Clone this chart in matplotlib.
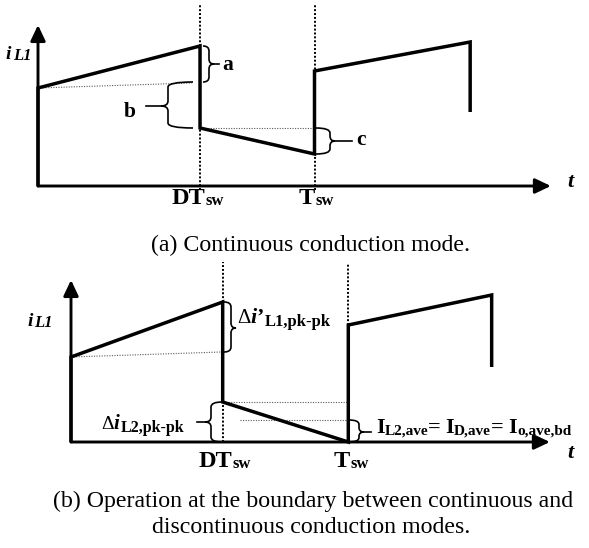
import matplotlib
matplotlib.use("Agg")
import matplotlib.pyplot as plt
from matplotlib.path import Path
from matplotlib.patches import PathPatch

# ---------------- data (t in units of T_sw, i in arbitrary units) ----------------
# Panel (a): continuous conduction mode
t_a = [0.0, 0.0, 0.586, 0.586, 1.0, 1.0, 1.563, 1.563]
i_a = [0.0, 9.8, 14.0, 5.8, 3.2, 11.5, 14.4, 7.4]
D_a = 0.586
# Panel (b): boundary between CCM and DCM
t_b = [0.0, 0.0, 0.547, 0.547, 1.0, 1.0, 1.517, 1.517]
i_b = [0.0, 8.5, 14.0, 4.0, 0.0, 11.7, 14.7, 7.5]
D_b = 0.547
i_ave_b = 2.2

tick_labels = ["DT", "T"]
captions = ["(a) Continuous conduction mode.",
            "(b) Operation at the boundary between continuous and\ndiscontinuous conduction modes."]

W, H = 589, 548
SERIF = "Liberation Serif"
plt.rcParams["font.family"] = SERIF

fig = plt.figure(figsize=(W / 100, H / 100), dpi=100)


def panel(top_px, bot_px, x0, y0, tpx, ipx):
    ax = fig.add_axes([0, 1 - bot_px / H, 1, (bot_px - top_px) / H])
    ax.set_xlim(-x0 / tpx, (W - x0) / tpx)
    ax.set_ylim((y0 - bot_px) / ipx, (y0 - top_px) / ipx)
    ax.axis("off")
    return ax


ax_a = panel(0, 225, 38, 186, 276.5, 10)
ax_b = panel(258, 478, 71, 442, 277.3, 10)

ov = fig.add_axes([0, 0, 1, 1])
ov.set_xlim(0, W)
ov.set_ylim(H, 0)
ov.axis("off")
renderer = fig.canvas.get_renderer()

AX_LW = 2.1
WAVE_LW = 2.5
arrow = dict(arrowstyle="-|>,head_length=0.95,head_width=0.45", mutation_scale=10,
             lw=AX_LW, color="k", shrinkA=0, shrinkB=0)
vdot = dict(color="k", lw=1.4, linestyle=(0, (1, 1)))
hdot = dict(color="0.35", lw=0.8, linestyle=(0, (1, 1.3)))


def axes_arrows(ax, ytip, xtip):
    ax.annotate("", xy=(0, ytip), xytext=(0, 0), arrowprops=arrow)
    ax.annotate("", xy=(xtip, 0), xytext=(0, 0), arrowprops=arrow)


# ---- panel (a) ----
axes_arrows(ax_a, 16.1, 1.855)
ax_a.plot([D_a, D_a], [-0.4, 18.1], **vdot)
ax_a.plot([1, 1], [-0.4, 18.1], **vdot)
ax_a.plot([0, D_a - 0.03], [i_a[1], 10.3], **hdot)
ax_a.plot([D_a, 1], [i_a[3], i_a[3]], **hdot)
ax_a.plot(t_a, i_a, color="k", lw=WAVE_LW, solid_joinstyle="miter", solid_capstyle="butt")

# ---- panel (b) ----
axes_arrows(ax_b, 16.2, 1.727)
ax_b.plot([D_b, D_b], [0, 18.0], **vdot)
ax_b.plot([1, 1], [i_b[5], 17.9], **vdot)
ax_b.plot([0, D_b - 0.005], [i_b[1], 9.0], **hdot)
ax_b.plot([D_b, 1], [i_b[3], i_b[3]], **hdot)
ax_b.plot([0.61, 1], [i_ave_b, i_ave_b], **hdot)
ax_b.plot(t_b, i_b, color="k", lw=WAVE_LW, solid_joinstyle="miter", solid_capstyle="butt")


# ---------------- braces & labels (overlay, pixel coords) ----------------
def brace(x_end, x_spine, x_tip, y1, y2, ym, tail=None, lw=1.2):
    r = min(5.0, (y2 - y1) / 5)
    verts = [(x_end, y1), (x_spine, y1), (x_spine, y1 + r),
             (x_spine, ym - r),
             (x_spine, ym), (x_tip, ym),
             (x_spine, ym), (x_spine, ym + r),
             (x_spine, y2 - r),
             (x_spine, y2), (x_end, y2)]
    codes = [Path.MOVETO, Path.CURVE3, Path.CURVE3, Path.LINETO,
             Path.CURVE3, Path.CURVE3, Path.CURVE3, Path.CURVE3,
             Path.LINETO, Path.CURVE3, Path.CURVE3]
    ov.add_patch(PathPatch(Path(verts, codes), fill=False, lw=lw, color="k"))
    if tail is not None:
        ov.plot([x_tip, tail], [ym, ym], color="k", lw=lw)


def txt(x, y, s, size, weight="bold", style="normal", ha="left"):
    return ov.text(x, y, s, fontsize=size, fontweight=weight, fontstyle=style,
                   ha=ha, va="baseline", color="k")


def compose(x, y, pieces):
    """pieces: (text, size, weight, style, dy, gap_before)"""
    for s, size, weight, style, dy, gap in pieces:
        x += gap
        t = txt(x, y + dy, s, size, weight, style)
        bb = t.get_window_extent(renderer)
        x = bb.x1


# panel (a) braces
brace(203, 209, 214, 46, 82, 64, tail=219)
txt(222, 70, "a", 15.5)
brace(193, 168, 161, 82, 128, 106, tail=146)
txt(124, 117, "b", 15.5)
brace(316, 330, 335, 128, 154, 141, tail=352)
txt(356, 145, "c", 15.5)

# axis labels (a)
compose(6, 59, [("i", 14, "bold", "italic", 0, 0), ("L1", 12, "bold", "italic", 1, 2)])
txt(567, 187, "t", 16, style="italic")
compose(172, 204, [(tick_labels[0], 17.5, "bold", "normal", 0, 0), ("sw", 12, "bold", "normal", 1, 0)])
compose(299, 204, [(tick_labels[1], 17.5, "bold", "normal", 0, 0), ("sw", 12, "bold", "normal", 1, 0)])

# panel (b) braces
brace(224, 231, 236, 302, 352, 328)
compose(237, 323, [("\u0394", 15, "normal", "normal", 0, 0),
                   ("i\u2019", 16, "bold", "italic", 0, 0),
                   ("L1,pk-pk", 12, "bold", "normal", 3, 1)])
brace(222, 211, 205, 402, 442, 422, tail=197)
compose(101, 429, [("\u0394", 14, "normal", "normal", 0, 0),
                   ("i", 15, "bold", "italic", 0, 0),
                   ("L2,pk-pk", 11.5, "bold", "normal", 3, 1)])
brace(349, 359, 364, 420, 442, 432, tail=371)
compose(376, 433, [("I", 16, "bold", "normal", 0, 0),
                   ("L2,ave", 11, "bold", "normal", 2, 0),
                   ("=", 16, "bold", "normal", 0, 0),
                   ("I", 16, "bold", "normal", 0, 4),
                   ("D,ave", 11, "bold", "normal", 2, 0),
                   ("=", 16, "bold", "normal", 0, 0),
                   ("I", 16, "bold", "normal", 0, 5),
                   ("o,ave,bd", 11, "bold", "normal", 2, 0)])

# axis labels (b)
compose(27, 326, [("i", 14, "bold", "italic", 0, 0), ("L1", 12, "bold", "italic", 1, 2)])
txt(567, 458, "t", 16, style="italic")
compose(199, 467, [(tick_labels[0], 17.5, "bold", "normal", 0, 0), ("sw", 12, "bold", "normal", 1, 0)])
compose(334, 467, [(tick_labels[1], 17.5, "bold", "normal", 0, 0), ("sw", 12, "bold", "normal", 1, 0)])

# captions
txt(311, 251, captions[0], 17.2, weight="normal", ha="center")
cap_b = captions[1].split("\n")
txt(313, 507.5, cap_b[0], 17.2, weight="normal", ha="center")
txt(311, 533, cap_b[1], 17.2, weight="normal", ha="center")

fig.savefig("out.png", dpi=100)
